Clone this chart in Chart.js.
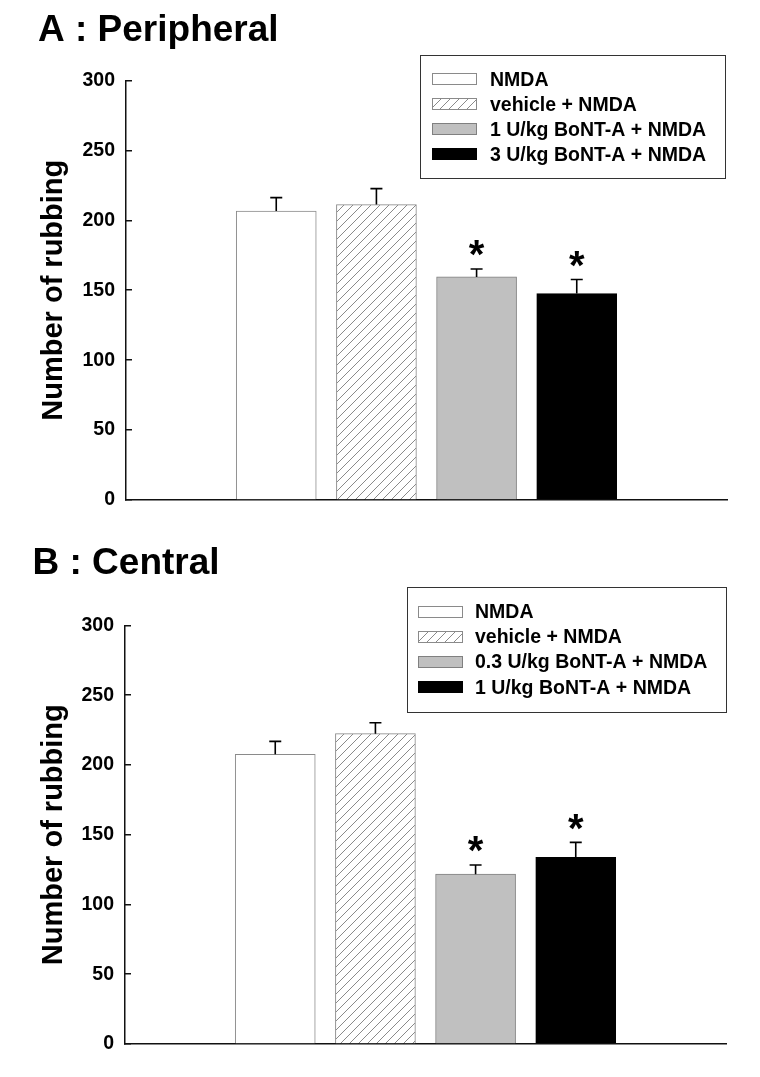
<!DOCTYPE html>
<html><head><meta charset="utf-8">
<script src="https://cdn.jsdelivr.net/npm/chart.js@4/dist/chart.umd.min.js"></script>
<style>
html,body{margin:0;padding:0;background:#fff;}
#wrap{position:relative;width:760px;height:1077px;overflow:hidden;}
.panel{position:absolute;left:0;}
</style></head><body>
<div id="wrap">
<div class="panel" style="top:0px"><canvas id="chartA" width="760" height="538"></canvas></div>
<div class="panel" style="top:538px"><canvas id="chartB" width="760" height="539"></canvas></div>
</div>
<script>
// ---- data ----
const panelTitles = ['A : Peripheral', 'B : Central'];
const yAxisTitle = 'Number of rubbing';
const groupPositions = [1, 2, 3, 4];
const yTicks = [0, 50, 100, 150, 200, 250, 300];

const peripheralLabels = ['NMDA', 'vehicle + NMDA', '1 U/kg BoNT-A + NMDA', '3 U/kg BoNT-A + NMDA'];
const peripheralMeans = [206.6, 211.2, 159.5, 147.6];
const peripheralSEM = [9.6, 11.4, 5.7, 10.0];
const peripheralSignificant = [false, false, true, true];

const centralLabels = ['NMDA', 'vehicle + NMDA', '0.3 U/kg BoNT-A + NMDA', '1 U/kg BoNT-A + NMDA'];
const centralMeans = [207.6, 222.4, 121.7, 133.8];
const centralSEM = [9.3, 7.8, 6.6, 10.7];
const centralSignificant = [false, false, true, true];

// ---- styles ----
const FONT = '"Liberation Sans", Arial, Helvetica, sans-serif';

function hatchPattern(ctx) {
  const c = document.createElement('canvas');
  c.width = 9; c.height = 9;
  const g = c.getContext('2d');
  g.fillStyle = '#fff'; g.fillRect(0, 0, 9, 9);
  g.strokeStyle = '#8a8a8a'; g.lineWidth = 1;
  g.beginPath();
  g.moveTo(0, 9); g.lineTo(9, 0);
  g.moveTo(-2, 2); g.lineTo(2, -2);
  g.moveTo(7, 11); g.lineTo(11, 7);
  g.stroke();
  return ctx.createPattern(c, 'repeat');
}

const boxLegend = {
  id: 'boxLegend',
  afterDraw(chart, args, o) {
    const ctx = chart.ctx;
    const ds = chart.data.datasets;
    ctx.save();
    ctx.font = 'bold ' + o.fontSize + 'px ' + FONT;
    const maxW = Math.max(...ds.map(d => ctx.measureText(d.label).width));
    const w = o.textOffset + maxW + o.padRight;
    const left = Math.round(o.right - w);
    ctx.fillStyle = '#fff';
    ctx.fillRect(left, o.top, w, o.height);
    ctx.strokeStyle = '#333';
    ctx.lineWidth = 1;
    ctx.strokeRect(left + 0.5, o.top + 0.5, Math.round(w), o.height);
    ds.forEach((d, i) => {
      const cy = o.top + o.firstRow + i * o.rowGap;
      const sx = left + o.swatchOffset, sy = Math.round(cy - o.swatchH / 2);
      ctx.fillStyle = d.backgroundColor;
      ctx.fillRect(sx, sy, o.swatchW, o.swatchH);
      ctx.strokeStyle = d.borderColor;
      ctx.lineWidth = 1;
      ctx.strokeRect(sx + 0.5, sy + 0.5, o.swatchW - 1, o.swatchH - 1);
      ctx.fillStyle = '#000';
      ctx.textBaseline = 'middle';
      ctx.textAlign = 'left';
      ctx.fillText(d.label, left + o.textOffset, cy + 1);
    });
    ctx.restore();
  }
};

const errorStars = {
  id: 'errorStars',
  afterDatasetsDraw(chart, args, o) {
    const ctx = chart.ctx;
    const ys = chart.scales.y;
    ctx.save();
    chart.data.datasets.forEach((d, i) => {
      const bar = chart.getDatasetMeta(i).data[0];
      const v = d.data[0].y;
      const topPx = ys.getPixelForValue(v + d.errorValue);
      const basePx = ys.getPixelForValue(v);
      ctx.strokeStyle = '#000';
      ctx.lineWidth = 1.6;
      ctx.beginPath();
      ctx.moveTo(bar.x, basePx);
      ctx.lineTo(bar.x, topPx);
      ctx.moveTo(bar.x - 6, topPx);
      ctx.lineTo(bar.x + 6, topPx);
      ctx.stroke();
      if (d.significant) {
        ctx.fillStyle = '#000';
        ctx.font = 'bold ' + o.starSize + 'px ' + FONT;
        ctx.textAlign = 'center';
        ctx.textBaseline = 'alphabetic';
        const cy = topPx - o.starGap;
        ctx.fillText('*', bar.x, cy + o.starSize * 0.58);
      }
    });
    ctx.restore();
  }
};

function makeChart(canvasId, title, labels, means, sems, sig, L) {
  const canvas = document.getElementById(canvasId);
  const ctx = canvas.getContext('2d');
  const fills = ['#ffffff', hatchPattern(ctx), '#c0c0c0', '#000000'];
  const borders = ['#8a8a8a', '#8a8a8a', '#808080', '#000000'];
  const datasets = labels.map((lab, i) => ({
    label: lab,
    data: [{ x: groupPositions[i], y: means[i] }],
    backgroundColor: fills[i],
    borderColor: borders[i],
    borderWidth: 1,
    barThickness: 80,
    grouped: false,
    errorValue: sems[i],
    significant: sig[i]
  }));
  return new Chart(ctx, {
    type: 'bar',
    data: { datasets },
    plugins: [boxLegend, errorStars],
    options: {
      responsive: false,
      animation: false,
      events: [],
      layout: { padding: { left: L.padLeft, right: L.padRight, top: 0, bottom: L.padBottom } },
      plugins: {
        legend: { display: false },
        tooltip: { enabled: false },
        title: {
          display: true, text: title, align: 'start', color: '#000',
          font: { family: FONT, size: 37, weight: 'bold', lineHeight: 1.2 },
          padding: { top: L.titleTop, bottom: L.titleBottom }
        },
        boxLegend: L.legend,
        errorStars: { starSize: 40, starGap: 24 }
      },
      scales: {
        x: {
          type: 'linear', min: -0.5, max: 5.5, offset: false,
          grid: { display: false },
          border: { display: true, color: '#111', width: 1.5 },
          ticks: { display: false },
          afterFit: s => { s.height = 0; }
        },
        y: {
          type: 'linear', min: 0, max: 300,
          afterBuildTicks: s => { s.ticks = yTicks.map(v => ({ value: v })); },
          grid: { display: true, drawOnChartArea: false, drawTicks: true, tickLength: -6, color: '#111', lineWidth: 1.5 },
          border: { display: true, color: '#111', width: 1.5 },
          ticks: { color: '#000', padding: 17, font: { family: FONT, size: 19.5, weight: 'bold' } },
          title: {
            display: true, text: yAxisTitle, color: '#000',
            font: { family: FONT, size: 29, weight: 'bold', lineHeight: 1.2 },
            padding: { top: L.yTitlePad, bottom: 0 }
          },
          afterFit: s => { s.width = L.axisX - L.padLeft; }
        }
      }
    }
  });
}

makeChart('chartA', panelTitles[0], peripheralLabels, peripheralMeans, peripheralSEM, peripheralSignificant, {
  padLeft: 38, padRight: 33, padBottom: 38, axisX: 126,
  titleTop: 8.4, titleBottom: 27.6, yTitlePad: -1,
  legend: { right: 725, top: 55, height: 123, firstRow: 24.3, rowGap: 25, swatchOffset: 12, swatchW: 45, swatchH: 12, textOffset: 70, padRight: 19, fontSize: 19.5 }
});
makeChart('chartB', panelTitles[1], centralLabels, centralMeans, centralSEM, centralSignificant, {
  padLeft: 32.5, padRight: 34, padBottom: 33, axisX: 125,
  titleTop: 3.4, titleBottom: 39.6, yTitlePad: 4,
  legend: { right: 726, top: 49, height: 125, firstRow: 24.7, rowGap: 25.2, swatchOffset: 11, swatchW: 45, swatchH: 12, textOffset: 68, padRight: 19, fontSize: 19.5 }
});
</script>
</body></html>
